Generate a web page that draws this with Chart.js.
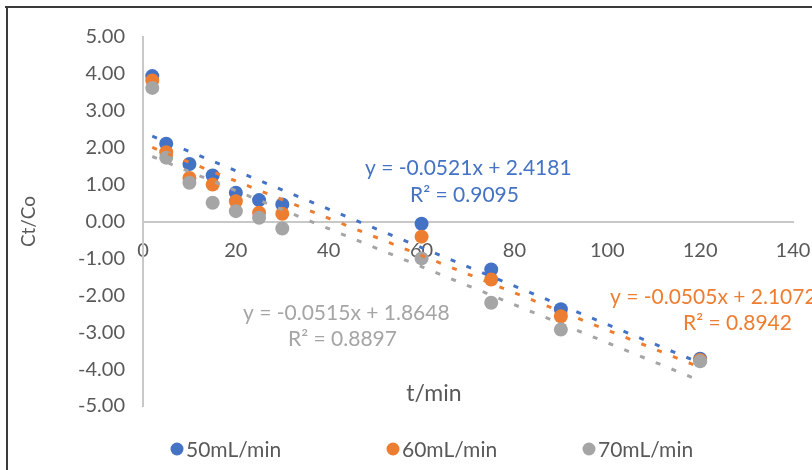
<!DOCTYPE html>
<html>
<head>
<meta charset="utf-8">
<script src="https://cdn.jsdelivr.net/npm/chart.js@4.4.1/dist/chart.umd.min.js"></script>
<style>
html,body{margin:0;padding:0;background:#fff;}
#wrap{position:relative;width:812px;height:470px;}
canvas{display:block;}
</style>
</head>
<body>
<div id="wrap"><canvas id="c" width="812" height="470"></canvas></div>
<script>
// ---- data ----
const times = [2, 5, 10, 15, 20, 25, 30, 60, 75, 90, 120];
const series50 = [3.94, 2.11, 1.56, 1.25, 0.78, 0.58, 0.46, -0.06, -1.30, -2.38, -3.72];
const series60 = [3.82, 1.88, 1.18, 1.00, 0.55, 0.24, 0.21, -0.41, -1.57, -2.57, -3.75];
const series70 = [3.62, 1.73, 1.05, 0.51, 0.28, 0.10, -0.19, -1.00, -2.20, -2.93, -3.79];
const seriesNames = ['50mL/min', '60mL/min', '70mL/min'];
const trendSlopes = [-0.0521, -0.0505, -0.0515];
const trendIntercepts = [2.4181, 2.1072, 1.8648];
const trendR2 = ['0.9095', '0.8942', '0.8897'];
const trendRange = [2, 120];
const yTicks = [-5, -4, -3, -2, -1, 0, 1, 2, 3, 4, 5];
const xTicks = [0, 20, 40, 60, 80, 100, 120, 140];

const colors = ['#4472C4', '#ED7D31', '#A5A5A5'];
const FONT = 'Lato, "Open Sans", sans-serif';
const TXT = '#595959';

const allSeries = [series50, series60, series70];
const pts = s => times.map((t, i) => ({x: t, y: s[i]}));

const datasets = [];
allSeries.forEach((s, k) => {
  datasets.push({
    type: 'scatter', label: seriesNames[k], data: pts(s),
    backgroundColor: colors[k], borderColor: colors[k], borderWidth: 0,
    pointRadius: 7, pointHoverRadius: 7, order: 3 - k
  });
});
allSeries.forEach((s, k) => {
  datasets.push({
    type: 'line', label: 'trend' + k,
    data: trendRange.map(x => ({x: x, y: trendSlopes[k] * x + trendIntercepts[k]})),
    borderColor: colors[k], borderWidth: 3, borderDash: [5, 12], borderCapStyle: 'butt',
    pointRadius: 0, fill: false, order: -1 - k
  });
});

const fmtEq = k => {
  const b = trendIntercepts[k];
  return 'y = ' + trendSlopes[k].toFixed(4) + 'x ' + (b >= 0 ? '+ ' : '- ') + Math.abs(b).toFixed(4);
};

// text annotation positions (pixels, left aligned)
const labelPos = [
  {eq: [365, 168], r2: [410, 195]},
  {eq: [610, 297], r2: [683, 323]},
  {eq: [243, 313], r2: [288, 339]}
];
const legendPos = [[177, 449], [393, 449], [589, 449]];

const decor = {
  id: 'decor',
  beforeDraw(chart) {
    const ctx = chart.ctx;
    ctx.save();
    ctx.strokeStyle = '#3a3a3a';
    ctx.lineWidth = 2;
    ctx.beginPath();
    ctx.moveTo(5, 7); ctx.lineTo(812, 7);
    ctx.moveTo(7, 6); ctx.lineTo(7, 470);
    ctx.stroke();
    ctx.restore();
  },
  afterDraw(chart) {
    const ctx = chart.ctx;
    ctx.save();
    ctx.textBaseline = 'middle';
    // trendline labels
    ctx.font = '21px ' + FONT;
    ctx.textAlign = 'left';
    labelPos.forEach((p, k) => {
      ctx.fillStyle = colors[k];
      ctx.fillText(fmtEq(k), p.eq[0], p.eq[1]);
      ctx.fillText('R\u00B2 = ' + trendR2[k], p.r2[0], p.r2[1]);
    });
    // x axis title
    ctx.fillStyle = TXT;
    ctx.textAlign = 'center';
    ctx.font = '23px ' + FONT;
    ctx.fillText('t/min', 434, 394);
    // legend
    ctx.font = '21px ' + FONT;
    ctx.textAlign = 'left';
    legendPos.forEach((p, k) => {
      ctx.fillStyle = colors[k];
      ctx.beginPath();
      ctx.arc(p[0], p[1], 6.5, 0, Math.PI * 2);
      ctx.fill();
      ctx.fillStyle = TXT;
      ctx.fillText(seriesNames[k], p[0] + 9, p[1] + 1);
    });
    ctx.restore();
  }
};

new Chart(document.getElementById('c'), {
  data: {datasets},
  options: {
    responsive: false,
    animation: false,
    layout: {padding: {left: 15, right: 19, top: 37, bottom: 64}},
    plugins: {legend: {display: false}, tooltip: {enabled: false}},
    scales: {
      x: {
        type: 'linear', min: 0, max: 140,
        position: {y: 0},
        afterBuildTicks: s => { s.ticks = xTicks.map(v => ({value: v})); },
        afterFit: s => { s.paddingLeft = 0; s.paddingRight = 0; s.paddingTop = 0; s.paddingBottom = 0; },
        grid: {display: false, drawTicks: false},
        border: {display: true, color: '#C8C8C8', width: 2},
        ticks: {color: TXT, font: {family: FONT, size: 20}, padding: 17, maxRotation: 0,
          callback: v => String(v)}
      },
      y: {
        type: 'linear', min: -5, max: 5,
        position: 'left',
        afterBuildTicks: s => { s.ticks = yTicks.map(v => ({value: v})); },
        afterFit: s => { s.width = 128; s.paddingTop = 0; s.paddingBottom = 0; },
        grid: {display: false, drawTicks: false},
        border: {display: true, color: '#C8C8C8', width: 2},
        title: {display: true, text: 'Ct/Co', color: TXT, font: {family: FONT, size: 19}, padding: {top: 2, bottom: 0}},
        ticks: {color: TXT, font: {family: FONT, size: 20}, padding: 18,
          callback: v => Number(v).toFixed(2)}
      }
    }
  },
  plugins: [decor]
});
</script>
</body>
</html>
